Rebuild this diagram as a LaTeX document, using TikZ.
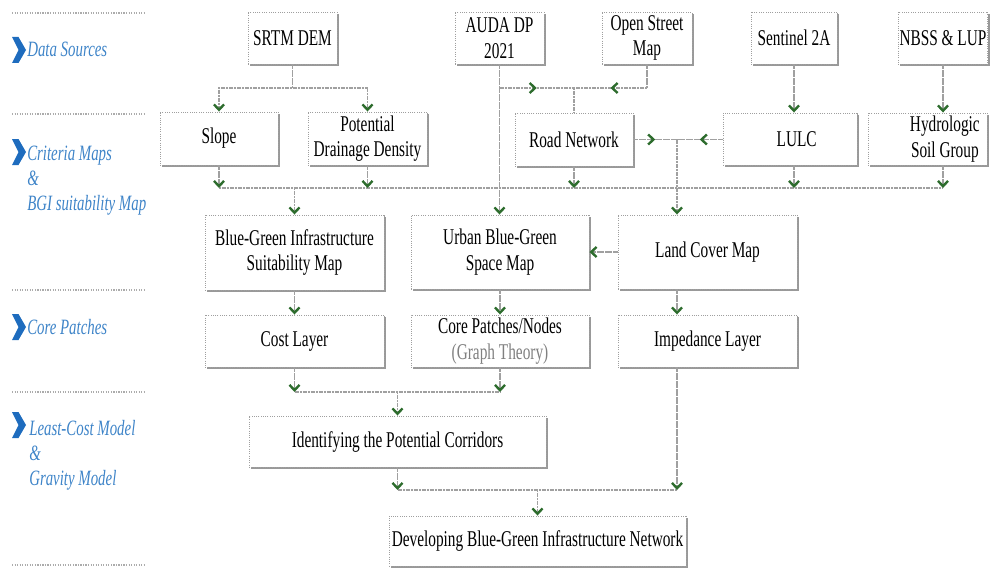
\documentclass[tikz,border=0pt]{standalone}
\usepackage{fontspec}
\setmainfont{Liberation Serif}[FakeStretch=0.68]
\usetikzlibrary{arrows.meta,shadows,decorations.markings}
\definecolor{tipgreen}{RGB}{45,108,45}
\definecolor{linegray}{RGB}{160,160,160}
\definecolor{lblblue}{RGB}{62,132,200}
\definecolor{chevblue}{RGB}{30,108,190}
\newcommand\bxfont{\fontsize{16.9pt}{19.2pt}\selectfont}
\newcommand\lbfont{\fontsize{16.4pt}{18.8pt}\selectfont\itshape}
\tikzset{
  gtip/.tip={Straight Barb[length=4pt,width=7.5pt,line width=1.8pt,color=tipgreen]},
  conn/.style={draw=linegray, line width=1.3pt, dash pattern=on 1.6pt off 0.4pt},
  midarrow/.style={postaction={decorate,decoration={markings,
      mark=at position 0.5 with {\arrow{gtip}}}}},
  wh/.style 2 args={minimum width=#1*0.75pt, minimum height=#2*0.75pt},
  box/.style={draw=gray!75, densely dotted, line width=0.7pt, fill=white,
      inner sep=1pt, align=center, font=\bxfont,
      drop shadow={shadow xshift=1.4pt, shadow yshift=-1.4pt, fill=gray!80, opacity=1}},
  sep/.style={draw=gray!65, line width=0.9pt, densely dotted},
  lbl/.style={anchor=west, align=left, inner sep=0pt, text=lblblue, font=\lbfont},
  chev/.style={fill=chevblue, draw=none}
}
\begin{document}
\begin{tikzpicture}[x=0.75pt, y=-0.75pt]
\useasboundingbox (0,0) rectangle (991,567);

% ---- stage labels on the left ----
\foreach \yy in {13,114,290,392,565} \draw[sep] (12,\yy) -- (145,\yy);
\foreach \yy in {50,152,327,425}
  \fill[chev] (12,\yy-13) -- (18.5,\yy-13) -- (26,\yy) -- (18.5,\yy+13) -- (12,\yy+13) -- (18.5,\yy) -- cycle;
\node[lbl] (lData) at (27,49) {Data Sources};
\node[lbl] (lCrit) at (27,181) {Criteria Maps\\\&\\BGI suitability Map};
\node[lbl] (lCore) at (27,327) {Core Patches};
\node[lbl] (lLcm) at (29,455) {Least-Cost Model\\\&\\Gravity Model};

% ---- data sources ----
\node[box, wh={89}{52}] (srtm) at (292.5,38) {SRTM DEM};
\node[box, wh={89}{52}] (auda) at (499.5,38) {AUDA DP\\2021};
\node[box, wh={90}{52}] (osm)  at (647,38)   {Open Street\\Map};
\node[box, wh={86}{52}] (sent) at (794,38)   {Sentinel 2A};
\node[box, wh={88}{52}] (nbss) at (943,38)   {NBSS \& LUP};

% ---- criteria maps ----
\node[box, wh={118}{53}] (slope) at (219,138.5)   {Slope};
\node[box, wh={119}{53}] (pdd)   at (367.5,138.5) {Potential\\Drainage Density};
\node[box, wh={118}{53}] (road)  at (574,139.5)   {Road Network};
\node[box, wh={134}{52}] (lulc)  at (790,139) {\hspace*{10pt}LULC};
\node[box, wh={119}{52}] (hsg)   at (927.5,139) {\hspace*{26pt}Hydrologic\\\hspace*{26pt}Soil Group};

% ---- maps ----
\node[box, wh={179}{75}] (bgi)  at (294.5,252.5) {Blue-Green Infrastructure\\Suitability Map};
\node[box, wh={178}{74}] (ubgs) at (500,252)     {Urban Blue-Green\\Space Map};
\node[box, wh={179}{74}] (lcm)  at (707.5,252)   {Land Cover Map};

% ---- layers ----
\node[box, wh={179}{52}] (cost) at (294.5,341) {Cost Layer};
\node[box, wh={178}{52}] (core) at (500,341)   {Core Patches/Nodes\\{\color{gray}(Graph Theory)}};
\node[box, wh={179}{52}] (imp)  at (707.5,341) {Impedance Layer};

% ---- models ----
\node[box, wh={297}{51}] (corr) at (397.5,441.5) {Identifying the Potential Corridors};
\node[box, wh={297}{50}] (dev)  at (537.5,541)   {Developing Blue-Green Infrastructure Network};

% ---- reference levels of the collector lines ----
\coordinate (busA) at (0,88);
\coordinate (busB) at (0,188);
\coordinate (busC) at (0,392);
\coordinate (busD) at (0,490);
\coordinate (jLC) at (677,139.5);

% SRTM DEM to slope and drainage density
\draw[conn,-{gtip}] (srtm.south) -- (srtm.south |- busA) -| (slope.north);
\draw[conn,-{gtip}] (srtm.south |- busA) -| (pdd.north);

% AUDA DP and Open Street Map to road network
\draw[conn,-{gtip}] (auda.south) -- (auda.south |- ubgs.north);
\draw[conn,midarrow] (auda.south |- busA) -- (road.north |- busA);
\draw[conn] (osm.south) -- (osm.south |- busA);
\draw[conn,midarrow] (osm.south |- busA) -- (road.north |- busA);
\draw[conn] (road.north |- busA) -- (road.north);

% Sentinel and NBSS sources
\draw[conn,-{gtip}] (sent.south) -- (sent.south |- lulc.north);
\draw[conn,-{gtip}] (nbss.south) -- (nbss.south |- hsg.north);

% road network and LULC to land cover map
\draw[conn,midarrow] (road.east) -- (jLC);
\draw[conn,midarrow] (lulc.west |- jLC) -- (jLC);
\draw[conn,-{gtip}] (jLC) -- (jLC |- lcm.north);

% criteria collector to suitability map
\draw[conn] (slope.south |- busB) -- (nbss.south |- busB);
\foreach \n in {slope,pdd,road}
  \draw[conn,-{gtip}] (\n.south) -- (\n.south |- busB);
\draw[conn,-{gtip}] (sent.south |- lulc.south) -- (sent.south |- busB);
\draw[conn,-{gtip}] (nbss.south |- hsg.south) -- (nbss.south |- busB);
\draw[conn,-{gtip}] (bgi.north |- busB) -- (bgi.north);

% maps to layers
\draw[conn,-{gtip}] (lcm.west) -- (ubgs.east);
\draw[conn,-{gtip}] (bgi.south) -- (cost.north);
\draw[conn,-{gtip}] (ubgs.south) -- (core.north);
\draw[conn,-{gtip}] (jLC |- lcm.south) -- (jLC |- imp.north);

% layers to corridors
\draw[conn] (cost.south |- busC) -- (core.south |- busC);
\draw[conn,-{gtip}] (cost.south) -- (cost.south |- busC);
\draw[conn,-{gtip}] (core.south) -- (core.south |- busC);
\draw[conn,-{gtip}] (corr.north |- busC) -- (corr.north);

% corridors and impedance to the network
\draw[conn] (corr.south |- busD) -- (jLC |- busD);
\draw[conn,-{gtip}] (corr.south) -- (corr.south |- busD);
\draw[conn,-{gtip}] (jLC |- imp.south) -- (jLC |- busD);
\draw[conn,-{gtip}] (dev.north |- busD) -- (dev.north);
\end{tikzpicture}
\end{document}
